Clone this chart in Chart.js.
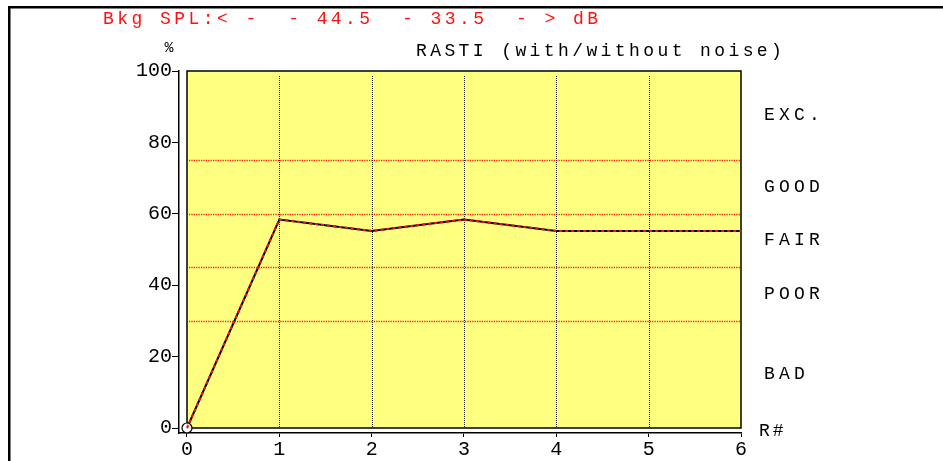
<!DOCTYPE html>
<html>
<head>
<meta charset="utf-8">
<script src="https://cdn.jsdelivr.net/npm/chart.js@4/dist/chart.umd.min.js"></script>
<style>
  html, body { margin: 0; padding: 0; background: #fff; overflow: hidden; }
  #wrap { width: 943px; height: 461px; position: relative; }
</style>
</head>
<body>
<div id="wrap"><canvas id="rasti" width="943" height="461"></canvas></div>
<script>
// Run numbers (R#) and RASTI values in percent
const runs = [0, 1, 2, 3, 4, 5, 6];
const rastiWithNoise    = [0, 58.4, 55.2, 58.4, 55.2, 55.2, 55.2];
const rastiWithoutNoise = [0, 58.4, 55.2, 58.4, 55.2, 55.2, 55.2];

// Axis ticks
const xTicks = [0, 1, 2, 3, 4, 5, 6];
const yTicks = [0, 20, 40, 60, 80, 100];

// Rating bands (bounds in %) and their names, bottom to top
const ratingBounds = [0, 30, 45, 60, 75, 100];
const ratingNames  = ['BAD', 'POOR', 'FAIR', 'GOOD', 'EXC.'];

// Header texts
const bkgSplText = 'Bkg SPL:< -  - 44.5  - 33.5  - > dB';
const titleText  = 'RASTI (with/without noise)';
const yUnitText  = '%';
const xUnitText  = 'R#';

const MONO = '"Liberation Mono", "DejaVu Sans Mono", monospace';

function spacedText(ctx, text, x, y, opts) {
  ctx.save();
  ctx.font = opts.font;
  ctx.fillStyle = opts.color;
  ctx.textAlign = opts.align || 'left';
  ctx.textBaseline = 'middle';
  ctx.letterSpacing = opts.spacing || '0px';
  ctx.fillText(text, x, y);
  ctx.restore();
}

const panelPlugin = {
  id: 'panel',
  beforeDraw(chart) {
    const { ctx, chartArea, scales } = chart;
    const xs = scales.x, ys = scales.y;
    ctx.save();
    ctx.fillStyle = '#fff';
    ctx.fillRect(0, 0, chart.width, chart.height);

    // outer frame (top and left edges)
    ctx.fillStyle = '#000';
    ctx.fillRect(8, 6, chart.width - 8, 2.5);
    ctx.fillRect(8, 6, 2.5, chart.height - 6);

    // yellow plotting panel
    const left = xs.getPixelForValue(0);
    const right = chartArea.right;
    const top = chartArea.top;
    const bottom = ys.getPixelForValue(0);
    ctx.fillStyle = '#FFFF80';
    ctx.fillRect(left, top, right - left, bottom - top);

    // red dotted rating boundaries
    ctx.strokeStyle = '#FF1010';
    ctx.lineWidth = 1.3;
    ctx.setLineDash([1.2, 1.2]);
    ratingBounds.slice(1, -1).forEach(v => {
      const y = Math.round(ys.getPixelForValue(v)) + 0.5;
      ctx.beginPath();
      ctx.moveTo(left + 2, y);
      ctx.lineTo(right - 1, y);
      ctx.stroke();
    });

    // black dotted run separators
    ctx.strokeStyle = '#202020';
    ctx.lineWidth = 1;
    ctx.setLineDash([1, 1]);
    xTicks.slice(1, -1).forEach(v => {
      const x = Math.round(xs.getPixelForValue(v)) + 0.5;
      ctx.beginPath();
      ctx.moveTo(x, top + 5);
      ctx.lineTo(x, bottom - 1);
      ctx.stroke();
    });
    ctx.setLineDash([]);

    // panel border
    ctx.strokeStyle = '#000';
    ctx.lineWidth = 1.5;
    ctx.strokeRect(left, top, right - left, bottom - top);
    ctx.restore();

    // texts
    const textFont = '18px ' + MONO;
    spacedText(ctx, bkgSplText, 103, 19, { font: textFont, color: '#FF1010', spacing: '3.44px' });
    spacedText(ctx, titleText, 416, 51, { font: textFont, color: '#000', spacing: '3.4px' });
    spacedText(ctx, yUnitText, 169, 48, { font: '15px ' + MONO, color: '#000', align: 'center' });
    for (let i = 0; i < ratingNames.length; i++) {
      const mid = (ratingBounds[i] + ratingBounds[i + 1]) / 2;
      spacedText(ctx, ratingNames[i], 764, ys.getPixelForValue(mid), { font: textFont, color: '#000', spacing: '4.2px' });
    }
    spacedText(ctx, xUnitText, 759, 431, { font: textFont, color: '#000', spacing: '3px' });
  }
};

const tickFont = { family: MONO, size: 20 };

new Chart(document.getElementById('rasti'), {
  type: 'line',
  data: {
    labels: runs,
    datasets: [
      {
        label: 'with noise',
        order: 2,
        data: runs.map((r, i) => ({ x: r, y: rastiWithNoise[i] })),
        borderColor: '#000',
        borderWidth: 2,
        tension: 0,
        clip: false,
        pointRadius: ctx => (ctx.dataIndex === 0 ? 5 : 0),
        pointBackgroundColor: 'rgba(255,255,255,0.9)',
        pointBorderColor: '#000',
        pointBorderWidth: 1.2
      },
      {
        label: 'without noise',
        order: 1,
        data: runs.map((r, i) => ({ x: r, y: rastiWithoutNoise[i] })),
        borderColor: '#FF1010',
        borderWidth: 2,
        borderDash: [3, 3],
        tension: 0,
        clip: false,
        pointRadius: 0
      }
    ]
  },
  options: {
    responsive: false,
    animation: false,
    events: [],
    layout: { padding: { left: 0, top: 71, right: 202, bottom: 0 } },
    plugins: { legend: { display: false }, title: { display: false }, tooltip: { enabled: false } },
    scales: {
      x: {
        type: 'linear',
        min: -0.0866,
        max: 6,
        afterBuildTicks: s => { s.ticks = xTicks.map(v => ({ value: v })); },
        afterFit: s => { s.height = 28; },
        grid: { drawOnChartArea: false, drawTicks: true, tickLength: 4, color: '#000', lineWidth: 1 },
        border: { display: true, color: '#000', width: 1.5 },
        ticks: { font: tickFont, color: '#000', padding: 1, maxRotation: 0, autoSkip: false,
                 callback: v => String(v) }
      },
      y: {
        type: 'linear',
        min: -1.4,
        max: 100,
        afterBuildTicks: s => { s.ticks = yTicks.map(v => ({ value: v })); },
        afterFit: s => { s.width = 179; },
        grid: { drawOnChartArea: false, drawTicks: true, tickLength: 7, color: '#000', lineWidth: 1 },
        border: { display: true, color: '#000', width: 1.5 },
        ticks: { font: tickFont, color: '#000', padding: 0, autoSkip: false,
                 callback: v => String(v) }
      }
    }
  },
  plugins: [panelPlugin]
});
</script>
</body>
</html>
